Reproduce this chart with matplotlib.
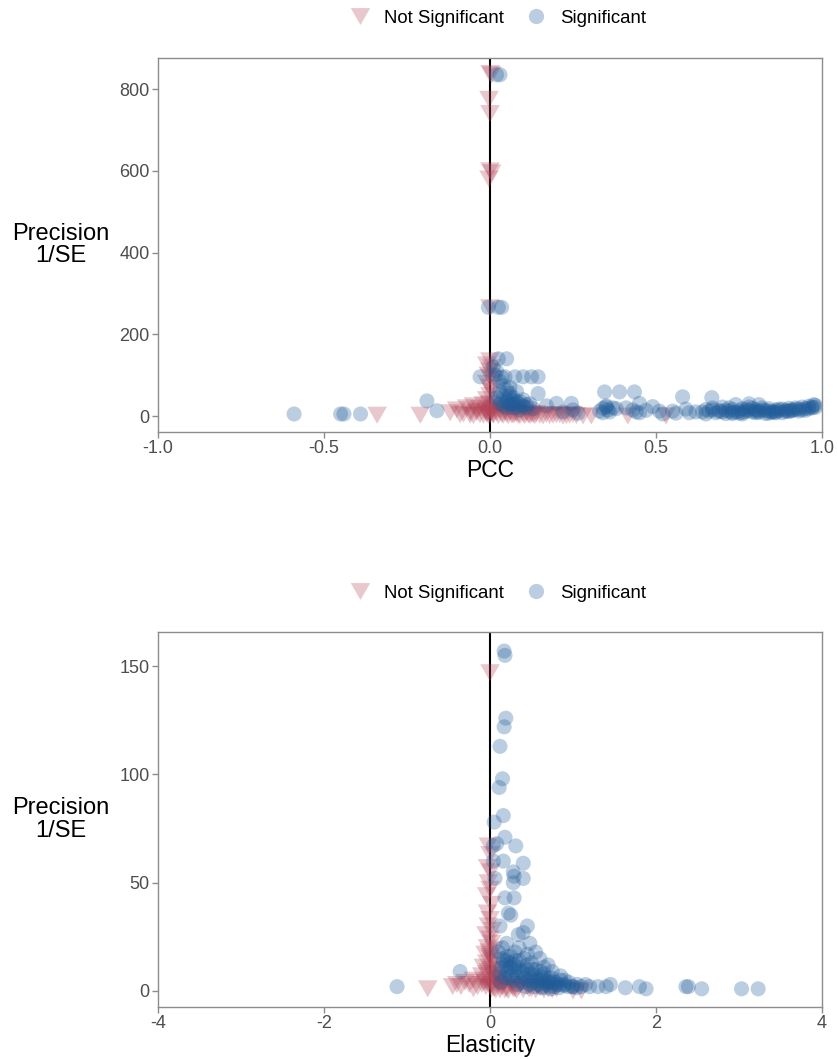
import matplotlib
matplotlib.use("Agg")
import matplotlib.pyplot as plt
from matplotlib.lines import Line2D

plt.rcParams['font.family'] = ['Liberation Sans', 'DejaVu Sans']

# ---------------- Panel 1: PCC ----------------
pcc_sig_x = [0.02, 0.03, -0.005, 0.025, 0.035,
             -0.59, -0.45, -0.44, -0.39, -0.19, -0.16,
             -0.03, 0.025, 0.05, 0.045, 0.075, 0.10, 0.125, 0.145, 0.145,
             0.01, 0.02, 0.03, 0.04, 0.05, 0.03, 0.06, 0.07, 0.05, 0.08, 0.06, 0.09, 0.10,
             0.04, 0.11, 0.12, 0.07, 0.09, 0.13, 0.015, 0.035, 0.06, 0.08, 0.10, 0.02,
             0.03, 0.05, 0.07, 0.04, 0.06, 0.08, 0.05, 0.07, 0.09, 0.11, 0.03, 0.06,
             0.20, 0.245, 0.265, 0.17, 0.22, 0.25, 0.345, 0.39, 0.435, 0.34, 0.35, 0.355,
             0.37, 0.36, 0.34, 0.45, 0.49, 0.51, 0.55, 0.59, 0.58, 0.43, 0.45, 0.41, 0.52, 0.60,
             0.33, 0.35, 0.38, 0.44, 0.47, 0.56, 0.62,
             0.64, 0.66, 0.68, 0.69, 0.70, 0.72, 0.73, 0.74, 0.75, 0.76, 0.77, 0.78, 0.79,
             0.80, 0.81, 0.82, 0.83, 0.84, 0.85, 0.86, 0.87, 0.88, 0.89, 0.90, 0.91, 0.92,
             0.93, 0.94, 0.95, 0.96, 0.97, 0.975, 0.98, 0.71, 0.75, 0.80, 0.85, 0.90, 0.82,
             0.78, 0.72, 0.70, 0.67, 0.76, 0.83, 0.88, 0.93, 0.74, 0.78, 0.81, 0.668,
             0.65, 0.67, 0.71, 0.73, 0.77, 0.79, 0.81, 0.84, 0.86, 0.87, 0.89, 0.91, 0.94,
             0.95, 0.96, 0.97, 0.98, 0.92, 0.90, 0.86, 0.84, 0.80, 0.76, 0.73, 0.69, 0.65]
pcc_sig_y = [835, 835, 266, 266, 266,
             5, 5, 5, 5, 37, 13,
             96, 140, 140, 96, 96, 96, 96, 96, 55,
             120, 110, 85, 75, 65, 60, 55, 45, 40, 35, 30, 28, 25,
             50, 20, 30, 20, 15, 18, 100, 95, 70, 60, 40, 45,
             30, 35, 38, 25, 28, 22, 20, 30, 35, 28, 40, 48,
             31, 31, 7, 25, 10, 15, 59, 59, 59, 19, 25, 15,
             20, 10, 8, 31, 23, 12, 12, 17, 47, 15, 8, 20, 5, 8,
             12, 22, 18, 10, 14, 7, 10,
             10, 12, 8, 14, 10, 12, 16, 10, 13, 18, 11, 14, 10,
             16, 12, 15, 13, 18, 11, 15, 13, 17, 14, 19, 15, 20,
             17, 22, 19, 24, 22, 28, 26, 6, 7, 8, 9, 11, 20,
             22, 20, 22, 20, 5, 6, 8, 12, 28, 30, 28, 45,
             16, 15, 14, 9, 16, 19, 9, 12, 10, 17, 11, 13, 15,
             14, 18, 20, 21, 16, 13, 8, 7, 12, 9, 6, 11, 5]

pcc_ns_x = [0.0, 0.005, -0.003, 0.0, 0.0, 0.005, -0.003, 0.0,
            0.0, -0.01, 0.005, 0.0, -0.005, 0.0, 0.01, -0.01, 0.0, 0.005, 0.0, -0.01, 0.0, 0.01,
            -0.005, 0.0, 0.005, -0.01, 0.0, 0.01, -0.005, 0.0,
            -0.34, -0.21, -0.12, -0.10, -0.08, -0.07, -0.06, -0.05, -0.04, -0.03, -0.02,
            -0.015, -0.01, -0.09, -0.06, -0.05, -0.03, -0.02, -0.04,
            0.01, 0.02, 0.03, 0.04, 0.05, 0.06, 0.07, 0.08, 0.09, 0.10, 0.11, 0.12, 0.13,
            0.14, 0.15, 0.16, 0.17, 0.18, 0.20, 0.22, 0.24, 0.26, 0.28, 0.305, 0.415, 0.53, 0.096,
            0.015, 0.025, 0.035, 0.045, 0.055, 0.065, 0.075, 0.085, 0.105, 0.115, 0.125,
            0.135, 0.19, 0.21, 0.23, 0.25]
pcc_ns_y = [838, 835, 775, 740, 600, 595, 580, 265,
            135, 125, 118, 110, 100, 95, 90, 80, 70, 60, 50, 40, 30, 25,
            20, 15, 10, 8, 5, 3, 2, 1,
            2, 2, 8, 15, 5, 20, 10, 25, 8, 18, 28,
            12, 5, 3, 2, 1, 3, 2, 14,
            3, 8, 15, 2, 5, 10, 2, 6, 1, 4, 8, 1, 3,
            6, 2, 0, 4, 1, 3, 0, 2, 1, 0, 0, 0, 0, 19,
            20, 1, 4, 9, 1, 3, 5, 2, 1, 3, 5,
            1, 2, 3, 1, 4]

# ---------------- Panel 2: Elasticity ----------------
el_sig_x = [0.17, 0.18, 0.19, 0.17, 0.12, 0.15, 0.11, 0.16, 0.05, 0.18, 0.08, 0.31, 0.04,
            0.40, 0.16, 0.04, 0.28, 0.29, 0.40, 0.06, 0.28, 0.18, 0.29, 0.22, 0.25, 0.45,
            0.40, 0.34, 0.48, 0.12, 0.20,
            -0.36, -1.12,
            0.10, 0.15, 0.20, 0.25, 0.30, 0.35, 0.40, 0.45, 0.50, 0.55, 0.60, 0.65, 0.70,
            0.75, 0.80, 0.85, 0.90, 0.95, 1.00, 1.05, 1.10, 1.15, 1.20, 0.12, 0.18, 0.22,
            0.28, 0.32, 0.38, 0.42, 0.48, 0.52, 0.58, 0.62, 0.68, 0.72, 0.78, 0.15, 0.30,
            0.45, 0.60, 0.55, 0.70, 0.35, 0.50, 0.25, 0.20, 0.65, 0.75, 0.85, 0.90,
            0.14, 0.19, 0.24, 0.29, 0.34, 0.39, 0.44, 0.49, 0.54, 0.59, 0.64, 0.69, 0.74,
            0.79, 0.84, 0.89, 0.94, 0.99, 1.04, 0.16, 0.21, 0.26, 0.31, 0.36, 0.41, 0.46,
            0.51, 0.56, 0.61, 0.66, 0.71, 0.13, 0.23, 0.33, 0.43, 0.53, 0.63, 0.73, 0.83,
            1.30, 1.40, 1.45, 1.63, 1.80, 1.88, 2.36, 2.39, 2.55, 3.03, 3.23]
el_sig_y = [157, 155, 126, 122, 113, 98, 94, 81, 78, 71, 68, 67, 67,
            59, 60, 60, 55, 53, 52, 52, 50, 43, 43, 36, 35, 30,
            27, 26, 22, 30, 22,
            9, 2,
            18, 15, 12, 16, 10, 14, 8, 12, 6, 10, 5, 8, 4,
            6, 3, 5, 3, 4, 2, 3, 2, 3, 2, 8, 6, 9,
            5, 7, 4, 6, 3, 4, 3, 2, 3, 2, 2, 20, 18,
            17, 15, 18, 12, 20, 13, 11, 14, 11, 9, 7, 5,
            11, 10, 13, 12, 11, 9, 10, 8, 7, 7, 6, 5, 4,
            4, 3, 2.5, 2, 2, 1.5, 14, 16, 7, 14, 9, 15, 5,
            10, 5, 9, 4, 6, 4, 6, 3, 2, 2, 1.5, 1, 1.5,
            2, 2, 3, 1.5, 2, 1, 2, 2, 1, 1, 1]

el_ns_x = [0.0,
           -0.02, 0.0, -0.03, 0.01, -0.02, 0.0, -0.04, 0.02, -0.03, 0.0, -0.02, 0.03, -0.05,
           0.0, 0.02, -0.03, 0.05, -0.06, 0.0, 0.03, -0.04, 0.06, -0.08, 0.01, -0.02, 0.08,
           -0.10, 0.04, 0.10,
           -0.75, -0.45, -0.40, -0.35, -0.30, -0.25, -0.20, -0.15, -0.10, -0.05, 0.0, 0.05,
           0.10, 0.15, 0.20, 0.25, 0.30, 0.35, 0.40, 0.45, 0.50, 0.55, 0.60, 0.65, 0.70,
           0.75, 0.80, 1.00, 1.10, -0.20, 0.12, 0.22, 0.32,
           -0.01, 0.01, -0.04, 0.04, -0.07, 0.07, 0.02, -0.02, 0.05, -0.05, 0.09, 0.13,
           0.17, 0.27, 0.37, 0.47, 0.57, 0.02, 0.07, 0.18, 0.28]
el_ns_y = [147,
           67, 63, 57, 55, 50, 47, 44, 40, 36, 33, 30, 28, 26,
           24, 22, 20, 19, 17, 16, 14, 13, 12, 11, 10, 9, 8,
           7, 7, 6,
           1, 2, 3, 2, 4, 3, 5, 2, 3, 4, 2, 1,
           3, 2, 1, 3, 1, 2, 0.5, 2, 1, 0.5, 1.5, 0.5, 1,
           0.5, 1, 0, 0, 1, 0.5, 0.2, 0.3,
           18, 15, 8, 10, 4, 5, 3, 5, 6, 2, 4, 2,
           4, 2, 3, 1, 2, 1, 0.5, 0.5, 1]

labels = ["Not Significant", "Significant"]

# ---------------- style ----------------
blue = '#1F5C99'
red = '#B4465A'
alpha = 0.3
tri = [(-1, 0.866), (1, 0.866), (0, -0.866), (-1, 0.866)]
s_circ = 118
s_tri = 200
spine_col = '#8C8C8C'
tick_col = '#4D4D4D'

fig = plt.figure(figsize=(8.38, 10.59), dpi=100)
ax1 = fig.add_axes([0.1885, 0.5921, 0.7925, 0.3531])
ax2 = fig.add_axes([0.1885, 0.0491, 0.7925, 0.3541])


def draw(ax, sx, sy, nx, ny, xlim, ylim, xticks, yticks, xticklabels, xlabel, leg_y):
    ax.axvline(0, color='black', lw=1.5, zorder=1)
    ax.scatter(nx, ny, marker=tri, s=s_tri, color=red, alpha=alpha,
               edgecolors='none', zorder=2)
    ax.scatter(sx, sy, marker='o', s=s_circ, color=blue, alpha=alpha,
               edgecolors='none', zorder=3)
    ax.set_xlim(*xlim)
    ax.set_ylim(*ylim)
    ax.set_xticks(xticks)
    ax.set_xticklabels(xticklabels)
    ax.set_yticks(yticks)
    for sp in ax.spines.values():
        sp.set_color(spine_col)
        sp.set_linewidth(1.0)
    ax.tick_params(axis='both', direction='out', length=4, width=1.0,
                   color=spine_col, labelcolor=tick_col, labelsize=13, pad=2)
    ax.set_xlabel(xlabel, fontsize=16.5, color='black', labelpad=1)
    ax.set_ylabel("Precision\n1/SE", fontsize=17, color='black', rotation=0,
                  ha='center', va='center', linespacing=1.05)
    ax.yaxis.set_label_coords(-0.146, 0.5)
    handles = [Line2D([], [], marker=tri, linestyle='none', markersize=14,
                      markerfacecolor=red, markeredgecolor='none', alpha=alpha),
               Line2D([], [], marker='o', linestyle='none', markersize=11,
                      markerfacecolor=blue, markeredgecolor='none', alpha=alpha)]
    ax.legend(handles, labels, loc='center', bbox_to_anchor=(0.508, leg_y),
              ncol=2, frameon=False, fontsize=13.4, handletextpad=0.5,
              columnspacing=0.9, borderaxespad=0.0, handlelength=1.6)


draw(ax1, pcc_sig_x, pcc_sig_y, pcc_ns_x, pcc_ns_y,
     (-1, 1), (-39, 876), [-1, -0.5, 0, 0.5, 1], [0, 200, 400, 600, 800],
     ["-1.0", "-0.5", "0.0", "0.5", "1.0"], "PCC", 1.107)
draw(ax2, el_sig_x, el_sig_y, el_ns_x, el_ns_y,
     (-4, 4), (-7.4, 165.8), [-4, -2, 0, 2, 4], [0, 50, 100, 150],
     ["-4", "-2", "0", "2", "4"], "Elasticity", 1.104)

fig.savefig("out.png", dpi=100)
